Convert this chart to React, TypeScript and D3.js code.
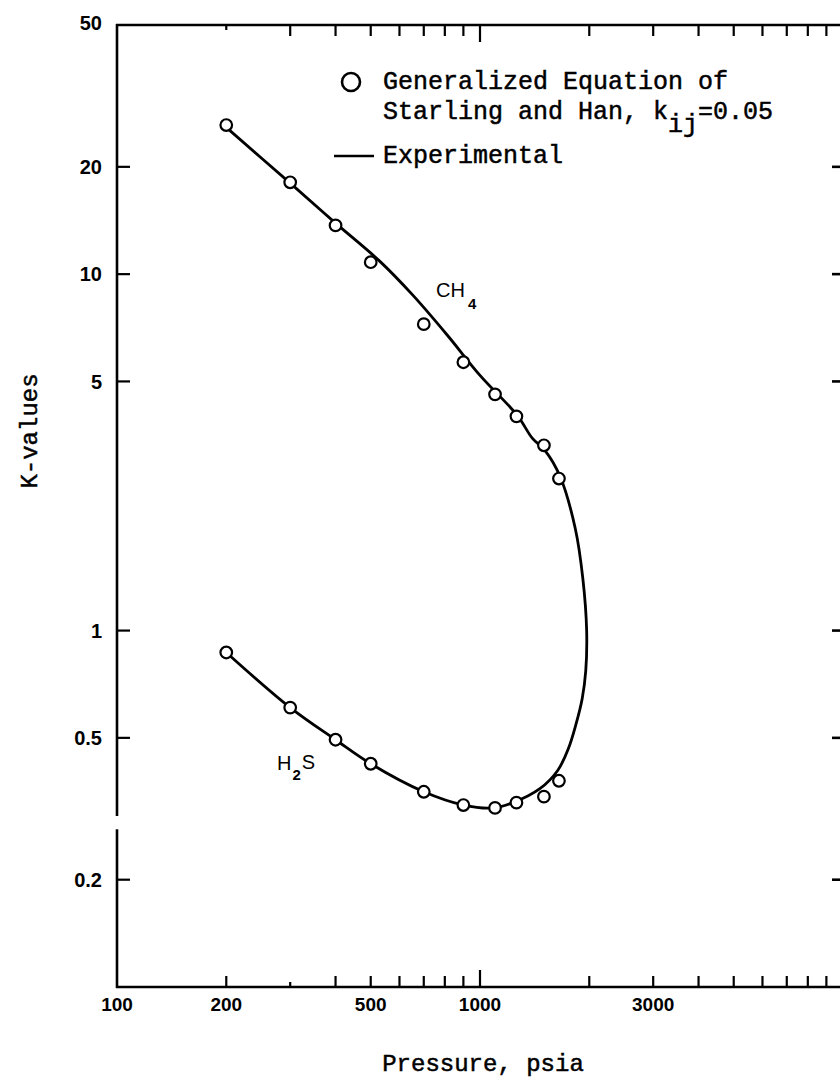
import React, { useEffect, useRef } from "react";
import * as d3 from "d3";

// Pressures (psia) at which the generalized equation was evaluated
const pressures = [200, 300, 400, 500, 700, 900, 1100, 1260, 1500, 1650];
// Calculated K-values (circles)
const kCH4 = [26.2, 18.1, 13.7, 10.8, 7.24, 5.66, 4.6, 3.99, 3.31, 2.67];
const kH2S = [0.868, 0.608, 0.494, 0.423, 0.353, 0.324, 0.318, 0.329, 0.342, 0.379];

// Experimental envelope: CH4 branch down to the convergence point, then back along H2S
const expPressure = [
  200, 300, 400, 530, 653, 812, 1000, 1268, 1395, 1511, 1661, 1830, 1920, 1967,
  1956, 1912, 1840, 1751, 1637, 1462, 1232, 1086, 900, 700, 500, 400, 300, 200,
];
const expK = [
  25.8, 18.0, 13.9, 10.86, 8.73, 6.75, 5.2, 4.01, 3.46, 3.2, 2.71, 1.934, 1.4, 1.0,
  0.772, 0.644, 0.548, 0.466, 0.405, 0.36, 0.329, 0.318, 0.324, 0.353, 0.423, 0.494, 0.608, 0.868,
];

const yTickValues = [50, 20, 10, 5, 1, 0.5, 0.2];
const yTickLabels = ["50", "20", "10", "5", "1", "0.5", "0.2"];
const xLabelValues = [100, 200, 500, 1000, 3000];
const xLabelText = ["100", "200", "500", "1000", "3000"];
const xMinorTicks = [200, 300, 400, 500, 600, 700, 800, 900, 2000, 3000, 4000, 5000, 6000, 7000, 8000, 9000];
const xMajorTicks = [1000];
// Gap in the left axis line (K-value range left undrawn)
const axisBreak = [0.302, 0.277];

const W = 840;
const H = 1085;

export default function App() {
  const ref = useRef<SVGSVGElement | null>(null);

  useEffect(() => {
    document.body.style.margin = "0";
    const svg = d3.select(ref.current);
    svg.selectAll("*").remove();

    const x = d3.scaleLog().domain([100, 10000]).range([117, 843]);
    const y = d3.scaleLog().domain([0.1, 50]).range([987, 25]);

    const x0 = x(100);
    const x1 = x(10000);
    const yTop = y(50);
    const yBot = y(0.1);
    const axisW = 2.6;

    const g = svg.append("g");

    // frame: top, bottom, right, and left (with break)
    g.append("line").attr("x1", x0 - 1).attr("x2", x1).attr("y1", yTop).attr("y2", yTop)
      .attr("stroke", "#000").attr("stroke-width", axisW);
    g.append("line").attr("x1", x0 - 1).attr("x2", x1).attr("y1", yBot).attr("y2", yBot)
      .attr("stroke", "#000").attr("stroke-width", axisW);
    g.append("line").attr("x1", x1).attr("x2", x1).attr("y1", yTop).attr("y2", yBot)
      .attr("stroke", "#000").attr("stroke-width", axisW);
    g.append("line").attr("x1", x0).attr("x2", x0).attr("y1", yTop - 1).attr("y2", y(axisBreak[0]))
      .attr("stroke", "#000").attr("stroke-width", axisW);
    g.append("line").attr("x1", x0).attr("x2", x0).attr("y1", y(axisBreak[1])).attr("y2", yBot + 1)
      .attr("stroke", "#000").attr("stroke-width", axisW);

    // x ticks on bottom and top (pointing inward)
    const tickLen = (v: number, top: boolean) => {
      if (xMajorTicks.includes(v)) return 17;
      if (!top && v === 300) return 5;
      if (top && v === 200) return 5;
      return 11;
    };
    [...xMinorTicks, ...xMajorTicks].forEach((v) => {
      g.append("line").attr("x1", x(v)).attr("x2", x(v))
        .attr("y1", yBot).attr("y2", yBot - tickLen(v, false))
        .attr("stroke", "#000").attr("stroke-width", 2.2);
      g.append("line").attr("x1", x(v)).attr("x2", x(v))
        .attr("y1", yTop).attr("y2", yTop + tickLen(v, true))
        .attr("stroke", "#000").attr("stroke-width", 2.2);
    });

    // y ticks left and right
    yTickValues.filter((v) => v !== 50).forEach((v) => {
      g.append("line").attr("x1", x0).attr("x2", x0 + 13).attr("y1", y(v)).attr("y2", y(v))
        .attr("stroke", "#000").attr("stroke-width", 2.2);
      g.append("line").attr("x1", x1).attr("x2", x1 - 11).attr("y1", y(v)).attr("y2", y(v))
        .attr("stroke", "#000").attr("stroke-width", 2.6);
    });

    const sans = "'Liberation Sans', Arial, Helvetica, sans-serif";
    const mono = "'Liberation Mono', 'Courier New', monospace";

    // y tick labels
    yTickValues.forEach((v, i) => {
      g.append("text").attr("x", 102).attr("y", y(v) + (v === 50 ? -2 : 0))
        .attr("dy", "0.36em").attr("text-anchor", "end")
        .attr("font-family", sans).attr("font-weight", "bold").attr("font-size", 20)
        .text(yTickLabels[i]);
    });

    // x tick labels
    xLabelValues.forEach((v, i) => {
      g.append("text").attr("x", x(v)).attr("y", 1011).attr("text-anchor", "middle")
        .attr("font-family", sans).attr("font-weight", "bold").attr("font-size", 19)
        .text(xLabelText[i]);
    });

    // axis titles
    g.append("text").attr("x", 483).attr("y", 1071).attr("text-anchor", "middle")
      .attr("font-family", mono).attr("font-size", 24)
      .attr("stroke", "#000").attr("stroke-width", 0.5)
      .text("Pressure, psia");
    g.append("text").attr("transform", "translate(37,431) rotate(-90)")
      .attr("text-anchor", "middle")
      .attr("font-family", mono).attr("font-size", 24)
      .attr("stroke", "#000").attr("stroke-width", 0.5)
      .text("K-values");

    // experimental curve
    const curvePts: [number, number][] = expPressure.map((p, i) => [x(p), y(expK[i])]);
    const line = d3.line<[number, number]>().curve(d3.curveCatmullRom.alpha(0.5));
    g.append("path").attr("d", line(curvePts) as string)
      .attr("fill", "none").attr("stroke", "#000").attr("stroke-width", 2.8)
      .attr("stroke-linejoin", "round");

    // calculated points
    const drawPts = (ks: number[]) => {
      g.selectAll(null).data(pressures).enter().append("circle")
        .attr("cx", (p) => x(p)).attr("cy", (_p, i) => y(ks[i]))
        .attr("r", 5.8).attr("fill", "#fff").attr("stroke", "#000").attr("stroke-width", 2.2);
    };
    drawPts(kCH4);
    drawPts(kH2S);

    // component labels
    const ch4 = g.append("text").attr("x", 436).attr("y", 297)
      .attr("font-family", sans).attr("font-size", 20);
    ch4.append("tspan").text("CH");
    ch4.append("tspan").attr("dx", 3).attr("dy", 12).attr("font-size", 15).attr("font-weight", "bold").text("4");

    const h2s = g.append("text").attr("x", 277).attr("y", 770)
      .attr("font-family", sans).attr("font-size", 20);
    h2s.append("tspan").text("H");
    h2s.append("tspan").attr("dx", 1).attr("dy", 10).attr("font-size", 15).attr("font-weight", "bold").text("2");
    h2s.append("tspan").attr("dx", 1).attr("dy", -11).text("S");

    // legend
    g.append("circle").attr("cx", 351).attr("cy", 82).attr("r", 9)
      .attr("fill", "#fff").attr("stroke", "#000").attr("stroke-width", 2.6);
    g.append("line").attr("x1", 334).attr("x2", 374).attr("y1", 156).attr("y2", 156)
      .attr("stroke", "#000").attr("stroke-width", 2.6);

    const legendText = (yy: number) =>
      g.append("text").attr("x", 383).attr("y", yy)
        .attr("font-family", mono).attr("font-size", 25)
        .attr("stroke", "#000").attr("stroke-width", 0.5);
    legendText(89).text("Generalized Equation of");
    const l2 = legendText(119);
    l2.append("tspan").text("Starling and Han, k");
    l2.append("tspan").attr("dy", 13).text("ij");
    l2.append("tspan").attr("dy", -13).text("=0.05");
    legendText(163).text("Experimental");
  }, []);

  return (
    <svg ref={ref} width={W} height={H} viewBox={`0 0 ${W} ${H}`}
      style={{ display: "block", background: "#fff" }} />
  );
}
